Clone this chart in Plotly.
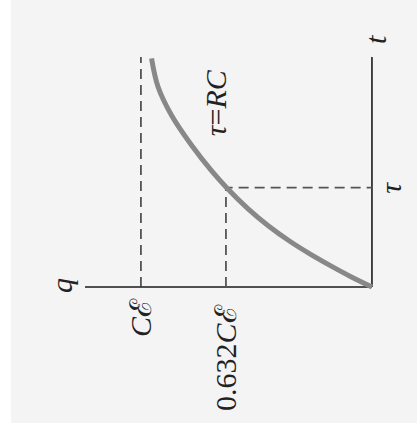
import plotly.graph_objects as go

# ---- data (in units of tau for t, C*E for q) ----
curve_t = [0.0, 0.106, 0.215, 0.331, 0.458, 0.617, 0.787, 0.997, 1.166, 1.424, 1.726, 2.016, 2.302]
curve_q = [0.0, 0.093, 0.180, 0.267, 0.354, 0.449, 0.536, 0.628, 0.693, 0.780, 0.867, 0.926, 0.954]
q_full = 1.0          # C*E
q_tau = 0.632         # 0.632 C*E
t_tau = 1.0           # tau
q_axis_end = 1.242
t_axis_end = 2.316
tick_labels = {"q_full": "<i>C</i>ℰ", "q_tau": "0.632<i>C</i>ℰ", "t_tau": "<i>τ</i>"}

FONT = "Liberation Serif, DejaVu Serif, serif"
fig = go.Figure()

# axes lines
fig.add_trace(go.Scatter(x=[q_axis_end, 0], y=[0, 0], mode="lines",
                         line=dict(color="#1a1a1a", width=1.6), hoverinfo="skip"))
fig.add_trace(go.Scatter(x=[0, 0], y=[0, t_axis_end], mode="lines",
                         line=dict(color="#1a1a1a", width=1.6), hoverinfo="skip"))
# dashed guides
dash = "10px,6px"
fig.add_trace(go.Scatter(x=[q_full, q_full], y=[0, t_axis_end], mode="lines",
                         line=dict(color="#333333", width=1.5, dash=dash), hoverinfo="skip"))
fig.add_trace(go.Scatter(x=[q_tau, q_tau, 0], y=[0, t_tau, t_tau], mode="lines",
                         line=dict(color="#555555", width=1.8, dash=dash), hoverinfo="skip"))
# charging curve
fig.add_trace(go.Scatter(x=curve_q, y=curve_t, mode="lines", line_shape="spline",
                         line=dict(color="#888888", width=5, smoothing=1.0), hoverinfo="skip"))

ann_font = dict(family=FONT, size=30, color="#222222")
anns = [
    dict(x=q_full, y=0, text=tick_labels["q_full"], yshift=-30),
    dict(x=q_tau, y=0, text=tick_labels["q_tau"], yshift=-70),
    dict(x=0, y=t_tau, text=tick_labels["t_tau"], xshift=19),
    dict(x=q_axis_end, y=0, text="<i>q</i>", xshift=-23, yshift=1),
    dict(x=0, y=t_axis_end, text="<i>t</i>", xshift=3, yshift=18),
    dict(x=0.68, y=1.86, text="<i>τ</i>=<i>RC</i>"),
]
for a in anns:
    fig.add_annotation(**a, xref="x", yref="y", showarrow=False, textangle=-90,
                       xanchor="center", yanchor="middle", font=ann_font)

# background panel
fig.add_shape(type="rect", xref="paper", yref="paper", x0=11/417, x1=1, y0=6/429, y1=1,
              fillcolor="#f4f4f4", line_width=0, layer="below")

fig.update_layout(
    width=417, height=429, margin=dict(l=0, r=0, t=0, b=0),
    paper_bgcolor="white", plot_bgcolor="rgba(0,0,0,0)", showlegend=False,
    xaxis=dict(range=[1.610, -0.195], visible=False, fixedrange=True),
    yaxis=dict(range=[-1.430, 2.890], visible=False, fixedrange=True),
)
fig.write_html("out.html", config={"displayModeBar": False},
               post_script="document.body.style.margin='0';document.body.style.overflow='hidden';")
